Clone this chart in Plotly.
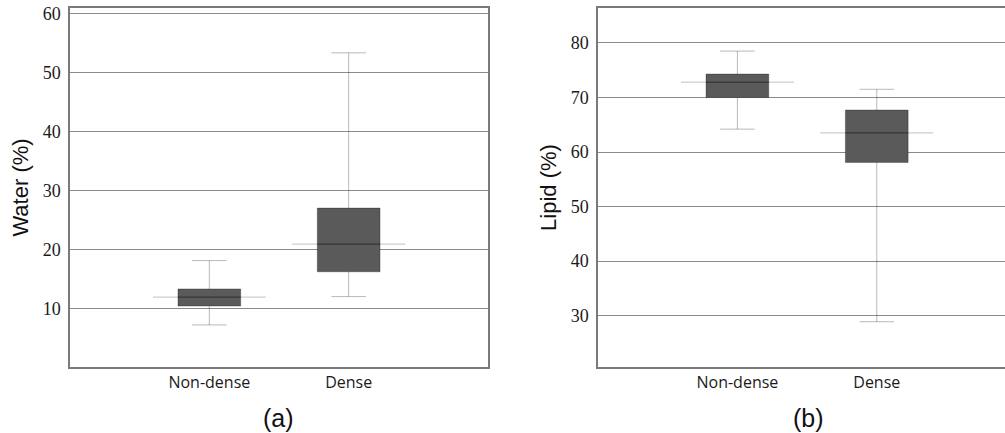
import plotly.graph_objects as go

categories = ["Non-dense", "Dense"]
cat_pos = [0, 1]

# Water (%)
water_lower = [7.3, 12.1]
water_q1 = [10.5, 16.3]
water_median = [12.0, 21.0]
water_q3 = [13.4, 27.1]
water_upper = [18.2, 53.4]

# Lipid (%)
lipid_lower = [64.2, 28.9]
lipid_q1 = [70.0, 58.1]
lipid_median = [72.8, 63.5]
lipid_q3 = [74.3, 67.7]
lipid_upper = [78.5, 71.5]

BOX_W = 0.45
MED_HALF = 0.405
BOX_FILL = "#5a5a5a"
WHISKER = "rgba(0,0,0,0.28)"
MEDIAN = "rgba(0,0,0,0.2)"
GRID = "#8a8a8a"
FRAME = "#7a7a7a"

fig = go.Figure()

def add_panel(lower, q1, med, q3, upper, xa, ya):
    for i, x in enumerate(cat_pos):
        fig.add_trace(go.Box(
            x=[x], q1=[q1[i]], median=[med[i]], q3=[q3[i]],
            lowerfence=[lower[i]], upperfence=[upper[i]],
            width=BOX_W, whiskerwidth=0.55,
            fillcolor=BOX_FILL, line=dict(color=WHISKER, width=1),
            xaxis=xa, yaxis=ya, showlegend=False, hoverinfo="skip",
        ))
        fig.add_trace(go.Scatter(
            x=[x - MED_HALF, x + MED_HALF], y=[med[i], med[i]],
            mode="lines", line=dict(color=MEDIAN, width=1.2),
            xaxis=xa, yaxis=ya, showlegend=False, hoverinfo="skip",
        ))

add_panel(water_lower, water_q1, water_median, water_q3, water_upper, "x", "y")
add_panel(lipid_lower, lipid_q1, lipid_median, lipid_q3, lipid_upper, "x2", "y2")

tickfont_y = dict(family="Liberation Serif", size=18, color="#1a1a1a")
tickfont_x = dict(family="Open Sans", size=16, color="#1a1a1a")
title_font = dict(family="Liberation Sans", size=22, color="#111")

common_x = dict(tickvals=cat_pos, ticktext=categories, tickfont=tickfont_x,
                showgrid=False, zeroline=False, ticks="", showline=True,
                linecolor=FRAME, linewidth=1.5, automargin=False)
common_y = dict(tickvals=[10, 20, 30, 40, 50, 60, 70, 80], tickfont=tickfont_y,
                showgrid=True, gridcolor=GRID, gridwidth=1.4, zeroline=False,
                ticks="", showline=True, linecolor=FRAME, linewidth=1.5,
                ticklabelstandoff=4, automargin=False)

fig.update_layout(
    width=1005, height=433,
    margin=dict(l=0, r=0, t=0, b=0, pad=0),
    paper_bgcolor="white", plot_bgcolor="white",
    boxmode="overlay",
    xaxis=dict(domain=[70/1005, 488/1005], range=[-1, 2], mirror=True,
               anchor="y", **common_x),
    yaxis=dict(domain=[1-367/433, 1-8/433], range=[0.17, 61.0], mirror=True,
               anchor="x", title=dict(text="Water (%)", font=title_font, standoff=8),
               **common_y),
    xaxis2=dict(domain=[598/1005, 1.0], range=[-1, 1.92], mirror=True,
                anchor="y2", **common_x),
    yaxis2=dict(domain=[1-367/433, 1-8/433], range=[20.6, 86.4], mirror=True,
                anchor="x2", title=dict(text="Lipid (%)", font=title_font, standoff=8),
                **common_y),
    annotations=[
        dict(text="(a)", x=278/1005, y=1-418/433, xref="paper", yref="paper",
             xanchor="center", yanchor="middle",
             showarrow=False, font=dict(family="Liberation Sans", size=25, color="#111")),
        dict(text="(b)", x=808/1005, y=1-418/433, xref="paper", yref="paper",
             xanchor="center", yanchor="middle",
             showarrow=False, font=dict(family="Liberation Sans", size=25, color="#111")),
    ],
)

fig.write_html("out.html", config={"displayModeBar": False},
               post_script="document.body.style.margin='0';")
